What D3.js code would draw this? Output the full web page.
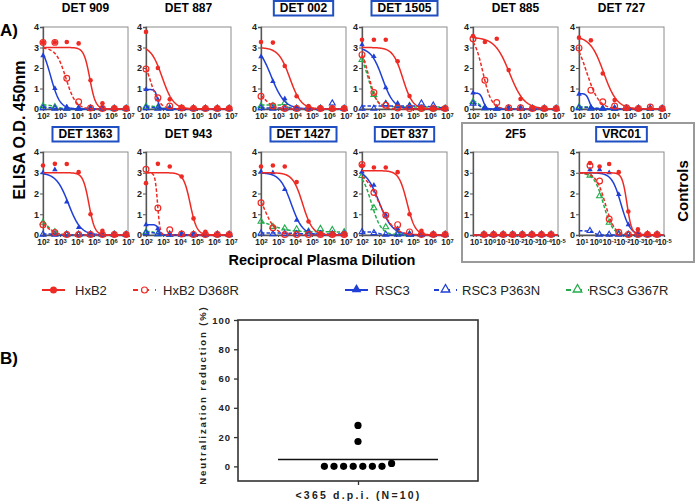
<!DOCTYPE html>
<html><head><meta charset="utf-8">
<script src="https://cdn.jsdelivr.net/npm/d3@7"></script>
<style>
body{margin:0;background:#fff}
svg{display:block;font-family:"Liberation Sans",Arial,sans-serif}
</style>
</head><body>
<svg id="c" width="696" height="504"></svg>
<script>
// ---------------- DATA ----------------
const panelNames = ["DET 909","DET 887","DET 002","DET 1505","DET 885","DET 727",
                    "DET 1363","DET 943","DET 1427","DET 837","2F5","VRC01"];
const boxedTitles = [false,false,true,true,false,false,true,false,true,true,false,true];
const isControl   = [false,false,false,false,false,false,false,false,false,false,true,true];
const dilutions = [100, 500, 2500, 12500, 62500, 312500, 1562500, 7812500];
const concentrations = [2.5, 0.5, 0.1, 0.02, 0.004, 0.0008, 0.00016, 0.000032];
const dilutionTickExp = [2,3,4,5,6,7];
const concTickExp = [1,0,-1,-2,-3,-4,-5];
const odTicks = [0,1,2,3,4];
const seriesNames = ["HxB2","HxB2 D368R","RSC3","RSC3 P363N","RSC3 G367R"];

// OD values per panel (8 dilution / concentration steps)
const hxb2 = [
  [3.25,3.25,3.27,3.2,1.4,0.28,0.05,0.05],
  [3.76,2.0,0.47,0.08,0.05,0.05,0.05,0.05],
  [3.27,3.24,2.1,0.62,0.15,0.03,0.03,0.03],
  [3.38,3.38,3.38,2.33,0.63,0.03,0.02,0.02],
  [3.56,3.27,3.43,1.9,0.49,0.07,0.02,0.02],
  [3.48,3.35,1.73,0.44,0.03,0.02,0.02,0.02],
  [3.35,3.43,3.42,3.03,1.0,0.2,0.02,0.02],
  [2.5,3.43,3.3,2.82,0.8,0.16,0.02,0.02],
  [3.3,3.35,3.3,2.55,0.65,0.03,0.02,0.02],
  [3.35,3.25,3.25,3.03,1.0,0.2,0.02,0.02],
  [0.02,0.02,0.02,0.02,0.02,0.02,0.02,0.02],
  [3.47,3.3,3.42,3.03,1.13,0.27,0.05,0.02]
];
const d368r = [
  [3.25,3.25,1.5,0.35,0.05,0.02,0.02,0.02],
  [1.95,0.55,0.15,0.05,0.03,0.03,0.03,0.03],
  [0.62,0.15,0.03,0.02,0.02,0.02,0.02,0.02],
  [2.65,0.8,0.18,0.05,0.03,0.03,0.03,0.03],
  [3.43,1.4,0.32,0.06,0.06,0.03,0.02,0.02],
  [2.98,0.92,0.35,0.15,0.06,0.03,0.1,0.03],
  [0.5,0.12,0.02,0.02,0.02,0.02,0.02,0.02],
  [3.17,1.3,0.25,0.05,0.03,0.03,0.03,0.03],
  [1.55,0.35,0.03,0.02,0.02,0.02,0.02,0.02],
  [3.4,2.05,0.95,0.5,0.15,0.02,0.02,0.02],
  [0.02,0.02,0.02,0.02,0.02,0.02,0.02,0.02],
  [3.35,2.6,0.77,0.13,0.03,0.02,0.02,0.02]
];
const rsc3 = [
  [2.6,1.0,0.1,0.02,0.02,0.02,0.02,0.02],
  [0.95,0.45,0.02,0.02,0.02,0.02,0.02,0.02],
  [2.55,1.35,0.5,0.05,0.02,0.02,0.02,0.02],
  [3.14,2.57,1.04,0.28,0.1,0.05,0.03,0.02],
  [0.78,0.05,0.02,0.02,0.02,0.02,0.02,0.02],
  [0.72,0.05,0.02,0.02,0.02,0.02,0.02,0.02],
  [3.0,3.15,1.6,0.37,0.05,0.02,0.02,0.02],
  [0.5,0.3,0.02,0.02,0.02,0.02,0.02,0.02],
  [3.05,3.0,2.2,0.72,0.2,0.02,0.02,0.02],
  [3.05,2.4,0.95,0.3,0.05,0.02,0.02,0.02],
  [0.02,0.02,0.02,0.02,0.02,0.02,0.02,0.02],
  [3.15,3.15,3.0,1.95,0.5,0.05,0.02,0.02]
];
const p363n = [
  [0.05,0.03,0.02,0.02,0.02,0.02,0.02,0.02],
  [0.05,0.03,0.02,0.02,0.02,0.02,0.02,0.02],
  [0.05,0.02,0.02,0.02,0.02,0.02,0.28,0.02],
  [0.02,0.02,0.25,0.15,0.15,0.28,0.18,0.02],
  [0.27,0.05,0.02,0.02,0.02,0.02,0.02,0.02],
  [0.05,0.03,0.02,0.02,0.02,0.02,0.02,0.02],
  [0.03,0.03,0.02,0.02,0.02,0.02,0.02,0.02],
  [0.1,0.05,0.02,0.02,0.02,0.02,0.02,0.02],
  [0.08,0.05,0.05,0.05,0.05,0.05,0.05,0.05],
  [0.15,0.1,0.03,0.02,0.02,0.02,0.02,0.02],
  [0.02,0.02,0.02,0.02,0.02,0.02,0.02,0.02],
  [0.2,0.02,0.02,0.02,0.02,0.02,0.02,0.02]
];
const g367r = [
  [0.15,0.1,0.02,0.02,0.02,0.02,0.02,0.02],
  [0.12,0.08,0.02,0.02,0.02,0.02,0.02,0.02],
  [0.15,0.15,0.3,0.02,0.02,0.02,0.02,0.02],
  [2.4,0.7,0.25,0.18,0.15,0.02,0.02,0.02],
  [0.35,0.05,0.02,0.02,0.02,0.02,0.02,0.02],
  [0.1,0.05,0.02,0.02,0.02,0.02,0.02,0.02],
  [0.6,0.15,0.02,0.02,0.02,0.02,0.02,0.02],
  [0.15,0.05,0.02,0.02,0.02,0.02,0.02,0.02],
  [0.65,0.4,0.32,0.28,0.17,0.3,0.25,0.15],
  [2.85,1.3,0.38,0.12,0.03,0.02,0.02,0.02],
  [0.02,0.02,0.02,0.02,0.02,0.02,0.02,0.02],
  [2.87,1.88,0.6,0.08,0.02,0.02,0.02,0.02]
];
// fitted sigmoid parameters: [top, bottom, logEC50, hill]
const hxb2Fit = [[3.0,0,4.75,2.5],[3.1,0,2.95,1.3],[3.0,0,3.7,1.3],[3.0,0,4.4,1.5],[3.5,0,4.15,1.0],[3.55,0,3.45,1.1],
                 [3.0,0,4.7,2.5],[3.0,0,4.6,2.2],[3.0,0,4.45,1.5],[3.1,0,4.65,1.8],[0,0,0,1],[3.0,0,-2.3,-2.5]];
const d368rFit = [[3.0,0,3.35,1.5],[2.8,0,2.25,1.6],[1.0,0,2.2,1.5],[3.2,0,2.4,1.7],[3.6,0,2.58,1.7],[3.6,0,2.45,1.2],
                  [0.8,0,2.2,1.5],[3.0,0,2.68,6],[2.5,0,2.2,1.3],[3.1,0,3.0,1.0],[0,0,0,1],[3.0,0,-0.72,-1.3]];
const rsc3Fit = [[3.2,0,2.45,1.6],[0.95,0,2.68,6],[3.2,0,2.6,1.1],[3.0,0,3.2,1.3],[0.78,0,2.6,5],[0.75,0,2.6,5],
                 [3.0,0,3.5,1.2],[0.5,0,2.75,6],[3.0,0,3.78,1.3],[3.2,0,3.0,1.1],[0,0,0,1],[3.0,0,-1.86,-1.3]];
const p363nFit = [[0.1,0,2.5,2],[0.1,0,2.6,2],[0.05,0,4,1],[0.15,0,6.5,1],[0.3,0,2.4,3],[0.08,0,3,2],
                  [0.05,0,2.7,3],[0.12,0,2.7,3],[0.1,0.05,4,1],[0.15,0,3.0,3],[0,0,0,1],[0.2,0,0.1,-3]];
const g367rFit = [[0.2,0,2.8,2],[0.15,0,2.8,2],[0.2,0,3.6,3],[3.0,0.1,2.35,1.7],[0.4,0,2.4,3],[0.12,0,2.8,2],
                  [0.8,0,2.3,1.8],[0.18,0,2.6,3],[0.8,0.15,2.6,0.8],[3.1,0,2.55,1.5],[0,0,0,1],[3.0,0,-0.58,-1.3]];

// Panel B
const reductionValues = [28,17,0,0,0,0,0,0,0,2];
const reductionTicks = [0,20,40,60,80,100];
const groupLabel = "<365 d.p.i. (N=10)";

// ---------------- STYLE / LAYOUT ----------------
const RED="#ee2a24", BLUE="#1f3fd6", GREEN="#22ad4c", TITLEBOX="#1f4fc0";
const colLeft=[43,146,261,362,473,579], plotW=85;
const rowTop=[27,152], plotH=[82,83];

const svg=d3.select("#c");

function fitY(f,x){const [top,bot,ec,h]=f;return bot+(top-bot)/(1+Math.pow(10,(Math.log10(x)-ec)*h));}

function marker(g,type,color,x,y){
  if(type==="circFill") g.append("circle").attr("cx",x).attr("cy",y).attr("r",2.3).attr("fill",color);
  else if(type==="circOpen") g.append("circle").attr("cx",x).attr("cy",y).attr("r",2.9).attr("fill","none").attr("stroke",color).attr("stroke-width",1.2);
  else{
    const p=g.append("path").attr("d",d3.symbol().type(d3.symbolTriangle).size(type==="triFill"?13:15)())
      .attr("transform",`translate(${x},${y})`);
    if(type==="triFill") p.attr("fill",color); else p.attr("fill","none").attr("stroke",color).attr("stroke-width",1.1);
  }
}

const seriesDefs=[
  {vals:g367r,fit:g367rFit,color:GREEN,dash:"3.5,2",mk:"triOpen"},
  {vals:p363n,fit:p363nFit,color:BLUE,dash:"3.5,2",mk:"triOpen"},
  {vals:rsc3,fit:rsc3Fit,color:BLUE,dash:null,mk:"triFill"},
  {vals:d368r,fit:d368rFit,color:RED,dash:"3.5,2",mk:"circOpen"},
  {vals:hxb2,fit:hxb2Fit,color:RED,dash:null,mk:"circFill"}
];

function supLabel(sel,expFn){
  sel.each(function(d){
    const t=d3.select(this); const e=expFn(d);
    t.text(null);
    t.append("tspan").text("10");
    t.append("tspan").attr("dy","-0.4em").attr("font-size","5.8px").text(String(e));
  });
}

// Controls box
svg.append("rect").attr("x",462).attr("y",123).attr("width",232).attr("height",139)
  .attr("fill","none").attr("stroke","#9a9a9a").attr("stroke-width",2);
svg.append("text").attr("transform","translate(688,191) rotate(-90)").attr("text-anchor","middle")
  .attr("font-weight","bold").attr("font-size","15px").text("Controls");

panelNames.forEach((name,i)=>{
  const col=i%6,row=Math.floor(i/6);
  const L=colLeft[col],T=rowTop[row],H=plotH[row],R=L+plotW,B=T+H;
  const ctrl=isControl[i];
  const xs=ctrl? d3.scaleLog().domain([Math.pow(10,1.2),1e-5]).range([L,R])
               : d3.scaleLog().domain([1e2,1e7]).range([L,R]);
  const ys=d3.scaleLinear().domain([0,4]).range([B,T]);
  const xv=ctrl?concentrations:dilutions;
  const g=svg.append("g");

  // title
  const ty=row===0?12:138;
  const cx=(L+R)/2;
  const tt=g.append("text").attr("x",cx).attr("y",ty).attr("text-anchor","middle")
    .attr("font-weight","bold").attr("font-size","12px").text(name);
  if(boxedTitles[i]){
    const w=tt.node().getComputedTextLength();
    g.insert("rect","text").attr("x",cx-w/2-6).attr("y",ty-11).attr("width",w+12).attr("height",14.5)
      .attr("fill","#fff").attr("stroke",TITLEBOX).attr("stroke-width",2);
  }

  // frame
  g.append("rect").attr("x",L).attr("y",T).attr("width",plotW).attr("height",H)
    .attr("fill","none").attr("stroke","#8c8c8c").attr("stroke-width",1);

  // axes
  const ya=g.append("g").attr("transform",`translate(${L},0)`)
    .call(d3.axisLeft(ys).tickValues(odTicks).tickSize(3).tickPadding(1).tickFormat(d3.format("d")));
  ya.select(".domain").attr("stroke","#555").attr("stroke-width",1.3);
  ya.selectAll(".tick line").attr("stroke","#555");
  ya.selectAll(".tick text").attr("font-size","9px").attr("font-weight","bold").attr("fill","#222")
    .attr("font-family","Liberation Sans, Arial, sans-serif");

  const xt=(ctrl?concTickExp:dilutionTickExp).map(e=>Math.pow(10,e));
  const xa=g.append("g").attr("transform",`translate(0,${B})`)
    .call(d3.axisBottom(xs).tickValues(xt).tickSize(2).tickPadding(2));
  xa.select(".domain").attr("stroke","#555").attr("stroke-width",1.3);
  xa.selectAll(".tick line").attr("stroke","#555");
  xa.selectAll(".tick text").attr("font-size","8.2px").attr("font-weight","bold").attr("fill","#222")
    .attr("font-family","Liberation Sans, Arial, sans-serif");
  supLabel(xa.selectAll(".tick text"),d=>Math.round(Math.log10(d)));

  // clip
  const cid="clip"+i;
  svg.append("clipPath").attr("id",cid).append("rect").attr("x",L-1).attr("y",T).attr("width",plotW+2).attr("height",H+1.5);

  const px=d3.range(L,R+0.01,0.5);
  const line=d3.line().x(d=>d[0]).y(d=>d[1]);
  seriesDefs.forEach(s=>{
    const f=s.fit[i];
    const pts=px.map(p=>[p,ys(fitY(f,xs.invert(p)))]);
    const path=g.append("path").attr("clip-path",`url(#${cid})`).attr("d",line(pts))
      .attr("fill","none").attr("stroke",s.color).attr("stroke-width",1.5);
    if(s.dash) path.attr("stroke-dasharray",s.dash);
    s.vals[i].forEach((v,k)=>marker(g,s.mk,s.color,xs(xv[k]),ys(v)));
  });
});

// Labels panel A
svg.append("text").attr("x",0).attr("y",36).attr("font-weight","bold").attr("font-size","17px").text("A)");
svg.append("text").attr("transform","translate(25,130) rotate(-90)").attr("text-anchor","middle")
  .attr("font-weight","bold").attr("font-size","16px").text("ELISA O.D. 450nm");
svg.append("text").attr("x",322).attr("y",265).attr("text-anchor","middle")
  .attr("font-weight","bold").attr("font-size","14.5px").text("Reciprocal Plasma Dilution");

// Legend
const legendX=[42,133,345,434,566], legendTX=[75,163,375,462,589];
const legendDefs=[
  {color:RED,dash:null,mk:"circFill"},{color:RED,dash:"5,6",mk:"circOpen"},
  {color:BLUE,dash:null,mk:"triFill"},{color:BLUE,dash:"5,6",mk:"triOpen"},{color:GREEN,dash:"5,6",mk:"triOpen"}
];
const ly=290;
seriesNames.forEach((n,k)=>{
  const d=legendDefs[k], x0=legendX[k];
  const ln=svg.append("line").attr("x1",x0).attr("x2",x0+23).attr("y1",ly).attr("y2",ly)
    .attr("stroke",d.color).attr("stroke-width",2);
  if(d.dash) ln.attr("stroke-dasharray",d.dash);
  if(d.mk==="circFill") svg.append("circle").attr("cx",x0+11.5).attr("cy",ly).attr("r",3.5).attr("fill",d.color);
  else if(d.mk==="circOpen") svg.append("circle").attr("cx",x0+11.5).attr("cy",ly).attr("r",3).attr("fill","#fff").attr("stroke",d.color).attr("stroke-width",1.2);
  else {
    const p=svg.append("path").attr("d",d3.symbol().type(d3.symbolTriangle).size(d.mk==="triFill"?40:32)())
      .attr("transform",`translate(${x0+11.5},${ly-0.5})`);
    if(d.mk==="triFill") p.attr("fill",d.color); else p.attr("fill","#fff").attr("stroke",d.color).attr("stroke-width",1.3);
  }
  svg.append("text").attr("x",legendTX[k]).attr("y",ly+5).attr("font-size","13px").attr("fill","#222").text(n);
});

// ---------------- Panel B ----------------
svg.append("text").attr("x",0).attr("y",364).attr("font-weight","bold").attr("font-size","17px").text("B)");
const bL=238,bR=478,bT=320,bB=481;
const by=d3.scaleLinear().domain([-10,100]).range([bB,bT]);
const bx=d3.scalePoint().domain([groupLabel]).range([bL,bR]).padding(0.5);
svg.append("rect").attr("x",bL).attr("y",bT).attr("width",bR-bL).attr("height",bB-bT)
  .attr("fill","none").attr("stroke","#333").attr("stroke-width",1.6);
const bya=svg.append("g").attr("transform",`translate(${bL},0)`)
  .call(d3.axisLeft(by).tickValues(reductionTicks).tickSize(4).tickPadding(3));
bya.select(".domain").remove();
bya.selectAll(".tick line").attr("stroke","#333").attr("stroke-width",1.3);
bya.selectAll(".tick text").attr("font-size","9.5px").attr("font-weight","bold").attr("fill","#222")
  .attr("font-family","Liberation Sans, Arial, sans-serif").style("letter-spacing","1px");
const bxa=svg.append("g").attr("transform",`translate(0,${bB})`)
  .call(d3.axisBottom(bx).tickSize(4).tickPadding(7));
bxa.select(".domain").remove();
bxa.selectAll(".tick line").attr("stroke","#333").attr("stroke-width",1.3);
bxa.selectAll(".tick text").attr("font-size","10.5px").attr("font-weight","bold").attr("fill","#222")
  .attr("font-family","Liberation Sans, Arial, sans-serif").style("letter-spacing","2.2px");
svg.append("text").attr("transform","translate(206,395) rotate(-90)").attr("text-anchor","middle")
  .attr("font-weight","bold").attr("font-size","9.5px").style("letter-spacing","1.9px").attr("fill","#222")
  .text("Neutralization reduction (%)");

// beeswarm: group near-equal values into rows
const sorted=[...reductionValues].sort((a,b)=>a-b);
const groups=[];
sorted.forEach(v=>{
  const g=groups.find(gr=>Math.abs(gr[0]-v)<6);
  if(g) g.push(v); else groups.push([v]);
});
const cxB=bx(groupLabel), spacing=9.6;
groups.forEach(gr=>{
  gr.forEach((v,k)=>{
    svg.append("circle").attr("cx",cxB+(k-(gr.length-1)/2)*spacing).attr("cy",by(v)).attr("r",3.6).attr("fill","#000");
  });
});
const meanV=d3.mean(reductionValues);
svg.append("line").attr("x1",cxB-(bR-bL)/3).attr("x2",cxB+(bR-bL)/3).attr("y1",by(meanV)).attr("y2",by(meanV))
  .attr("stroke","#111").attr("stroke-width",1.6);
</script>
</body></html>
